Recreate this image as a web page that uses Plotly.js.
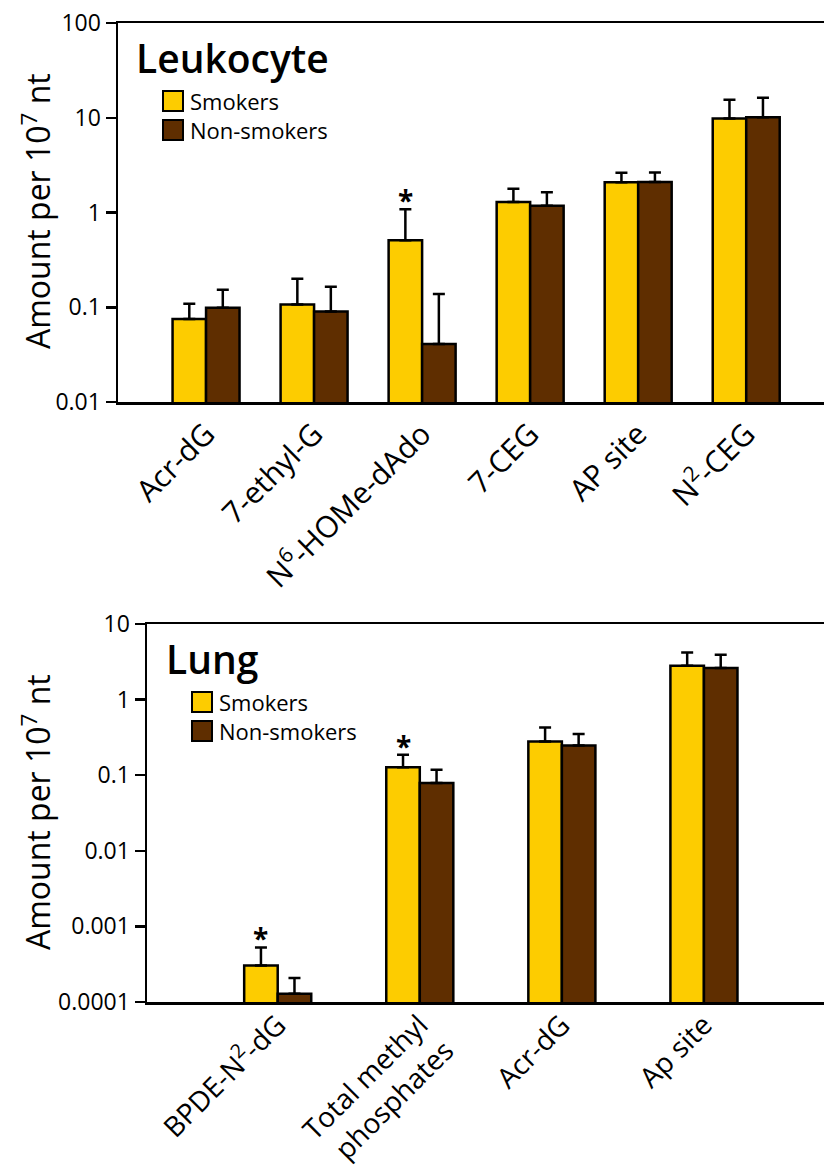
<!DOCTYPE html>
<html>
<head>
<meta charset="utf-8">
<script src="https://cdn.plot.ly/plotly-3.0.1.min.js"></script>
<style>html,body{margin:0;padding:0;background:#fff;}#chart{width:824px;height:1169px;}</style>
</head>
<body>
<div id="chart"></div>
<script>
// ---- Leukocyte panel data ----
const leukoCategories = ["Acr-dG", "7-ethyl-G", "N<sup>6</sup>-HOMe-dAdo", "7-CEG", "AP site", "N<sup>2</sup>-CEG"];
const leukoSmokers      = [0.075, 0.107, 0.51, 1.29, 2.08, 9.8];
const leukoSmokersErr   = [0.109, 0.20, 1.08, 1.78, 2.63, 15.5];   // top of error bar
const leukoNonSmokers   = [0.099, 0.090, 0.041, 1.18, 2.10, 10.1];
const leukoNonSmokersErr= [0.153, 0.165, 0.138, 1.64, 2.64, 16.3];
const leukoSignif       = [false, false, true, false, false, false];
const leukoTickVals     = [0.01, 0.1, 1, 10, 100];
const leukoTickText     = ["0.01", "0.1", "1", "10", "100"];

// ---- Lung panel data ----
const lungCategories = ["BPDE-N<sup>2</sup>-dG", "Total methyl<br>phosphates", "Acr-dG", "Ap site"];
const lungSmokers       = [0.000305, 0.127, 0.280, 2.81];
const lungSmokersErr    = [0.000527, 0.187, 0.429, 4.21];
const lungNonSmokers    = [0.000129, 0.079, 0.248, 2.62];
const lungNonSmokersErr = [0.000208, 0.118, 0.351, 3.93];
const lungSignif        = [true, true, false, false];
const lungTickVals      = [0.0001, 0.001, 0.01, 0.1, 1, 10];
const lungTickText      = ["0.0001", "0.001", "0.01", "0.1", "1", "10"];

const seriesNames = ["Smokers", "Non-smokers"];

// ---- styling ----
const W = 824, H = 1169;
const YELLOW = "#FDCC00", BROWN = "#5F2E00";
const FONT = "Open Sans, Noto Sans, sans-serif";
const px = v => v / W, py = v => 1 - v / H;

const topW = 0.31, botW = 0.236;  // bar widths in category units

function diff(a, b) { return a.map((v, i) => v - b[i]); }
function idx(arr) { return arr.map((_, i) => i); }

function barTrace(xs, ys, errTop, color, offset, width, xa, ya, name) {
  return {
    type: "bar", x: xs, y: ys, name: name, xaxis: xa, yaxis: ya,
    offset: offset, width: width,
    marker: {color: color, line: {color: "#000", width: 2.5}},
    error_y: {type: "data", symmetric: false, array: diff(errTop, ys),
              arrayminus: ys.map(() => 0), color: "#000", thickness: 2.5, width: 6},
    showlegend: false, hoverinfo: "skip"
  };
}

const lx = idx(leukoCategories), gx = idx(lungCategories);
const data = [
  barTrace(lx, leukoSmokers, leukoSmokersErr, YELLOW, -topW, topW, "x", "y", seriesNames[0]),
  barTrace(lx, leukoNonSmokers, leukoNonSmokersErr, BROWN, 0, topW, "x", "y", seriesNames[1]),
  barTrace(gx, lungSmokers, lungSmokersErr, YELLOW, -botW, botW, "x2", "y2", seriesNames[0]),
  barTrace(gx, lungNonSmokers, lungNonSmokersErr, BROWN, 0, botW, "x2", "y2", seriesNames[1])
];

const annotations = [];
const shapes = [];
// significance asterisks
const starFont = {family: FONT, size: 28, color: "#000", weight: 700};
leukoSignif.forEach((s, i) => { if (s) annotations.push({xref: "x", yref: "y", x: i - topW / 2, y: Math.log10(leukoSmokersErr[i]),
  text: "*", showarrow: false, yanchor: "bottom", yshift: -12, font: starFont}); });
lungSignif.forEach((s, i) => { if (s) annotations.push({xref: "x2", yref: "y2", x: i - botW / 2, y: Math.log10(lungSmokersErr[i]),
  text: "*", showarrow: false, yanchor: "bottom", yshift: -12, font: starFont}); });

// panel titles
const panelFont = {family: FONT, size: 39, color: "#000", weight: 600};
annotations.push({xref: "paper", yref: "paper", x: px(134), y: py(57), xanchor: "left", yanchor: "middle",
  text: "Leukocyte", showarrow: false, font: panelFont});
annotations.push({xref: "paper", yref: "paper", x: px(164), y: py(658), xanchor: "left", yanchor: "middle",
  text: "Lung", showarrow: false, font: panelFont});

// y titles
const yTitleFont = {family: FONT, size: 32, color: "#000", weight: 500};
annotations.push({xref: "paper", yref: "paper", x: px(36), y: py(211), textangle: -90, xanchor: "center", yanchor: "middle",
  text: "Amount per 10<sup>7</sup> nt", showarrow: false, font: yTitleFont});
annotations.push({xref: "paper", yref: "paper", x: px(36), y: py(812), textangle: -90, xanchor: "center", yanchor: "middle",
  text: "Amount per 10<sup>7</sup> nt", showarrow: false, font: yTitleFont});

// custom legends
function legend(x0, y0) {
  [YELLOW, BROWN].forEach((c, k) => {
    const top = y0 + k * 29;
    shapes.push({type: "rect", xref: "paper", yref: "paper", x0: px(x0), x1: px(x0 + 20), y0: py(top + 20), y1: py(top),
      fillcolor: c, line: {color: "#000", width: 2}});
    annotations.push({xref: "paper", yref: "paper", x: px(x0 + 25), y: py(top + 10), xanchor: "left", yanchor: "middle",
      text: seriesNames[k], showarrow: false, font: {family: FONT, size: 22, color: "#000"}});
  });
}
legend(163, 91);
legend(192, 692);

const axisLine = {showline: true, linecolor: "#000", linewidth: 2.5, zeroline: false, showgrid: false};
const yTickFont = {family: FONT, size: 23, color: "#000"};
const layout = {
  width: W, height: H, margin: {l: 0, r: 0, t: 0, b: 0},
  paper_bgcolor: "#fff", plot_bgcolor: "#fff",
  barmode: "overlay", showlegend: false,
  font: {family: FONT, color: "#000"},
  xaxis: Object.assign({}, axisLine, {domain: [px(118), 1], anchor: "y", mirror: true, range: [-0.815, 5.72],
    tickmode: "array", tickvals: lx, ticktext: leukoCategories, tickangle: -45, ticks: "",
    tickfont: {family: FONT, size: 30, color: "#000"}}),
  yaxis: Object.assign({}, axisLine, {domain: [py(402), py(23)], anchor: "x", type: "log", range: [-2, 2],
    tickmode: "array", tickvals: leukoTickVals, ticktext: leukoTickText, ticks: "outside", ticklen: 10, tickwidth: 2.5, tickcolor: "#000",
    tickfont: yTickFont}),
  xaxis2: Object.assign({}, axisLine, {domain: [px(147), 1], anchor: "y2", mirror: true, range: [-0.92, 3.845],
    tickmode: "array", tickvals: gx, ticktext: lungCategories, tickangle: -45, ticks: "", ticklabelstandoff: -7,
    tickfont: {family: FONT, size: 28, color: "#000"}}),
  yaxis2: Object.assign({}, axisLine, {domain: [py(1002), py(624)], anchor: "x2", type: "log", range: [-4, 1],
    tickmode: "array", tickvals: lungTickVals, ticktext: lungTickText, ticks: "outside", ticklen: 10, tickwidth: 2.5, tickcolor: "#000",
    tickfont: yTickFont}),
  annotations: annotations, shapes: shapes
};

Plotly.newPlot("chart", data, layout, {staticPlot: true, displayModeBar: false});
</script>
</body>
</html>
